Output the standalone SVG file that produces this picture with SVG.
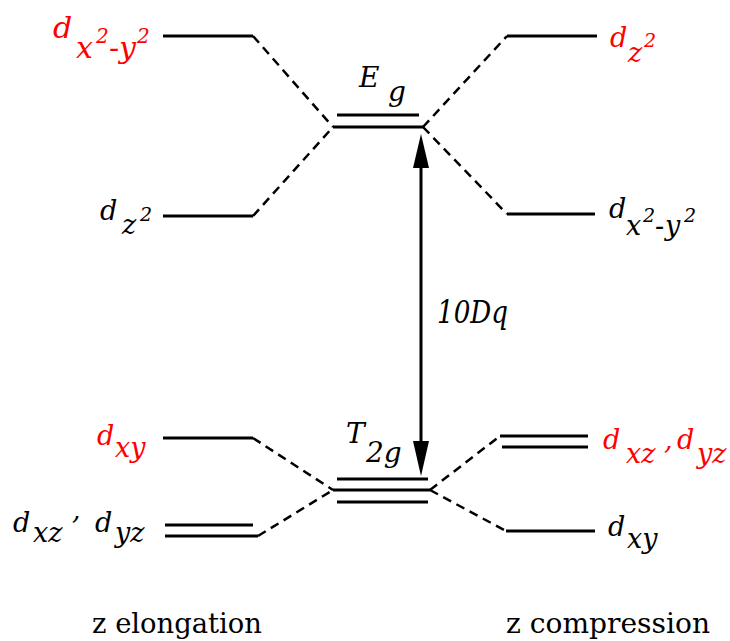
<svg xmlns="http://www.w3.org/2000/svg" width="730" height="641" viewBox="0 0 730 641">
<style>
.lv{stroke:#000;stroke-width:3;fill:none}
.ds{stroke:#000;stroke-width:2.5;fill:none;stroke-dasharray:9 6}
text{font-family:'DejaVu Serif',serif;fill:#000}
.t{font-style:italic;font-size:27px}
.r{fill:#ff0000}
.sup{font-size:19px}
.up{font-size:28px}
</style>
<rect width="730" height="641" fill="#fff"/>
<g id="connectors">
<path class="ds" d="M253,36 L333,127"/>
<path class="ds" d="M253,216 L333,127"/>
<path class="ds" d="M423,127 L507,36"/>
<path class="ds" d="M423,127 L507,214"/>
<path class="ds" d="M253,438 L333,490"/>
<path class="ds" d="M258,536 L333,490"/>
<path class="ds" d="M430,490 L500,436"/>
<path class="ds" d="M430,490 L506,531"/>
<g id="arrow">
<line x1="421" y1="165" x2="421" y2="442" stroke="#000" stroke-width="3"/>
<path d="M421,134 L413,168 L429,168 Z" fill="#000"/>
<path d="M421,476 L413,441 L429,441 Z" fill="#000"/>
</g>
</g>
<g id="eg">
<path class="lv" d="M337,115 H419 M333,127 H423"/>
<text class="t" style="font-size:28px"><tspan x="359" y="87">E</tspan><tspan x="388" y="101">g</tspan></text>
</g>
<g id="t2g">
<path class="lv" d="M337,479 H428 M333,490 H430 M337,502 H428"/>
<text class="t" style="font-size:28px"><tspan x="346" y="443">T</tspan><tspan x="366" y="462">2g</tspan></text>
</g>
<g id="left-dx2y2">
<path class="lv" d="M163,36 H253"/>
<text class="t r" style="font-size:30px"><tspan x="53" y="38">d</tspan><tspan x="76" y="58">x</tspan><tspan x="96" y="43" style="font-size:20px">2</tspan><tspan x="109" y="58">-</tspan><tspan x="119" y="58">y</tspan><tspan x="137" y="43" style="font-size:20px">2</tspan></text>
</g>
<g id="right-dz2">
<path class="lv" d="M507,36 H597"/>
<text class="t r"><tspan x="610" y="47">d</tspan><tspan x="628" y="62">z</tspan><tspan class="sup" x="644" y="47">2</tspan></text>
</g>
<g id="left-dz2">
<path class="lv" d="M163,216 H253"/>
<text class="t"><tspan x="100" y="220">d</tspan><tspan x="122" y="234">z</tspan><tspan class="sup" x="140" y="221">2</tspan></text>
</g>
<g id="right-dx2y2">
<path class="lv" d="M507,214 H595"/>
<text class="t"><tspan x="609" y="218">d</tspan><tspan x="626" y="235">x</tspan><tspan class="sup" x="643" y="222">2</tspan><tspan x="655" y="235">-</tspan><tspan x="665" y="235">y</tspan><tspan class="sup" x="684" y="222">2</tspan></text>
</g>
<g id="dq">
<text class="t" x="437" y="323" style="font-size:32px" textLength="71" lengthAdjust="spacingAndGlyphs">10Dq</text>
</g>
<g id="left-dxy">
<path class="lv" d="M163,438 H253"/>
<text class="t r"><tspan x="97" y="445">d</tspan><tspan x="115" y="457">xy</tspan></text>
</g>
<g id="left-dxzdyz">
<path class="lv" d="M165,525 H253 M165,536 H258"/>
<text class="t"><tspan x="13" y="532">d</tspan><tspan x="33" y="542">xz</tspan><tspan x="72" y="519">,</tspan><tspan x="95" y="532">d</tspan><tspan x="115" y="542">yz</tspan></text>
</g>
<g id="right-dxzdyz">
<path class="lv" d="M500,436 H588 M502,447 H588"/>
<text class="t r"><tspan x="603" y="449">d</tspan><tspan x="626" y="463">xz</tspan><tspan x="664" y="449">,</tspan><tspan x="677" y="449">d</tspan><tspan x="697" y="463">yz</tspan></text>
</g>
<g id="right-dxy">
<path class="lv" d="M506,531 H595"/>
<text class="t"><tspan x="608" y="536">d</tspan><tspan x="627" y="548">xy</tspan></text>
</g>
<g id="captions">
<text class="up" x="92" y="633" textLength="170" lengthAdjust="spacingAndGlyphs">z elongation</text>
<text class="up" x="506" y="633" textLength="204" lengthAdjust="spacingAndGlyphs">z compression</text>
</g>
</svg>
